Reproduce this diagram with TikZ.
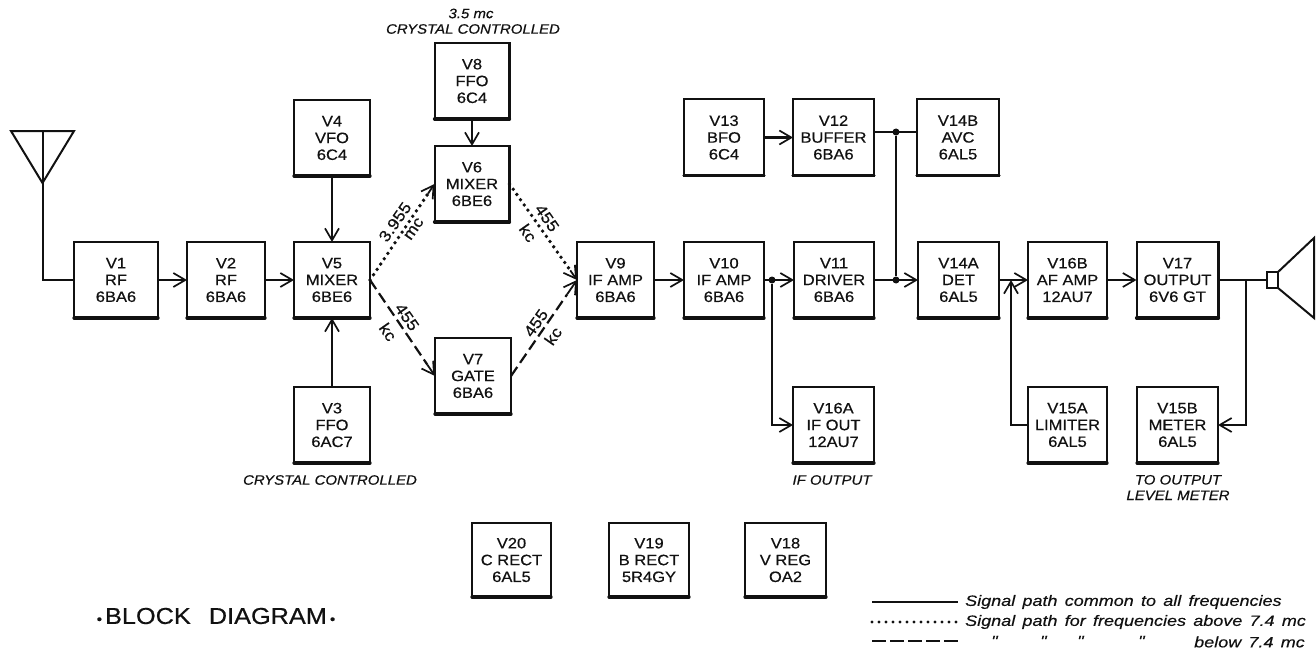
\documentclass[tikz,border=0pt]{standalone}
\usepackage{fontspec}
\setmainfont{Liberation Sans}[FakeStretch=1.1,FakeBold=0.5]
\newfontfamily\legfont{Liberation Sans}[FakeStretch=1.2,WordSpace=1.45,FakeBold=0.3]
\usetikzlibrary{arrows.meta,calc}
\definecolor{ink}{HTML}{111111}
\tikzset{
  box/.style={draw=ink,line width=2pt,minimum height=76pt,inner sep=0pt,outer sep=0pt,align=center,
    text=ink,font=\fontsize{15}{16.8}\selectfont},
  lab/.style={text=ink,inner sep=0pt,align=center,font=\fontsize{13.6}{15.5}\selectfont\itshape},
  edge/.style={text=ink,inner sep=0pt,font=\fontsize{16}{16}\selectfont},
  leg/.style={text=ink,inner sep=0pt,anchor=west,font=\legfont\fontsize{15}{15}\selectfont\itshape},
  tipb/.tip={Straight Barb[length=12pt,width=14pt,line width=1.7pt]},
  sig/.style={draw=ink,line width=2.4pt,-{tipb}},
  thin sig/.style={draw=ink,line width=1.8pt,-{tipb}},
  wire/.style={draw=ink,line width=2pt},
  dotpath/.style={draw=ink,line width=3.8pt,line cap=round,dash pattern=on 0pt off 6.4pt},
  dashpath/.style={draw=ink,line width=2.2pt,dash pattern=on 11pt off 5pt},
  tiponly/.style={draw=ink,line width=1.8pt,-{tipb}},
  junction/.style={circle,fill=ink,inner sep=0pt,minimum size=7pt},
}
\begin{document}
\begin{tikzpicture}[x=1pt,y=-1pt]
\useasboundingbox (0,0) rectangle (1316,650);
% main row
\node[box,minimum width=84pt] (V1) at (116,280) {V1\\RF\\6BA6};
\node[box,minimum width=78pt] (V2) at (226,280) {V2\\RF\\6BA6};
\node[box,minimum width=76pt] (V5) at (332,280) {V5\\MIXER\\6BE6};
\node[box,minimum width=76pt] (V4) at (332,138) {V4\\VFO\\6C4};
\node[box,minimum width=76pt] (V3) at (332,425) {V3\\FFO\\6AC7};
\node[box,minimum width=75pt] (V8) at (472,81) {V8\\FFO\\6C4};
\node[box,minimum width=75pt] (V6) at (472,184) {V6\\MIXER\\6BE6};
\node[box,minimum width=76pt] (V7) at (473,376) {V7\\GATE\\6BA6};
\node[box,minimum width=77pt] (V9) at (615.5,280) {V9\\IF AMP\\6BA6};
\node[box,minimum width=80pt] (V10) at (724,280) {V10\\IF AMP\\6BA6};
\node[box,minimum width=80pt] (V11) at (834,280) {V11\\DRIVER\\6BA6};
\node[box,minimum width=81pt] (V14A) at (958.5,280) {V14A\\DET\\6AL5};
\node[box,minimum width=79pt] (V16B) at (1067.5,280) {V16B\\AF AMP\\12AU7};
\node[box,minimum width=82pt] (V17) at (1177.5,280) {V17\\OUTPUT\\6V6 GT};
\node[box,minimum width=80pt] (V13) at (724,137.5) {V13\\BFO\\6C4};
\node[box,minimum width=81pt] (V12) at (833.5,137.5) {V12\\BUFFER\\6BA6};
\node[box,minimum width=82pt] (V14B) at (958,137.5) {V14B\\AVC\\6AL5};
\node[box,minimum width=81pt] (V16A) at (833.5,425) {V16A\\IF OUT\\12AU7};
\node[box,minimum width=79pt] (V15A) at (1067.5,425) {V15A\\LIMITER\\6AL5};
\node[box,minimum width=81pt] (V15B) at (1177.5,425) {V15B\\METER\\6AL5};
\node[box,minimum width=79pt,minimum height=74pt] (V20) at (511.5,560) {V20\\C RECT\\6AL5};
\node[box,minimum width=80pt,minimum height=74pt] (V19) at (649,560) {V19\\B RECT\\5R4GY};
\node[box,minimum width=81pt,minimum height=74pt] (V18) at (785.5,560) {V18\\V REG\\OA2};
% heavier lower and right edges of the boxes
\foreach \n in {V1,V2,V5,V4,V3,V8,V6,V7,V9,V10,V11,V14A,V16B,V17,V13,V12,V14B,V16A,V15A,V15B,V20,V19,V18}{
  \draw[draw=ink,line width=3.2pt,line cap=round] (\n.south west) -- (\n.south east);
  \draw[draw=ink,line width=2.6pt] (\n.south east) -- (\n.north east);
}
% antenna
\coordinate (antL) at (11,131);
\coordinate (antR) at (74,131);
\coordinate (antA) at (42.5,183);
\coordinate (antT) at (42.5,131);
\draw[wire,line join=miter] (antL) -- (antR) -- (antA) -- cycle;
\draw[wire] (antT) -- (antA) |- (V1.west);
% speaker
\node[draw=ink,line width=2pt,minimum width=11pt,minimum height=16pt,inner sep=0pt,outer sep=0pt] (spk) at (1272.5,280) {};
\coordinate (coneT) at (1314,238);
\coordinate (coneB) at (1314,318);
\draw[wire] (spk.north east) -- (coneT) -- (coneB) -- (spk.south east);
% junctions
\node[junction] (j1) at (896,132) {};
\node[junction] (j2) at (896,280) {};
\node[junction] (j3) at (772,280) {};
\coordinate (j4) at (1246,280);
\coordinate (j5) at (1011,280);
% solid connectors
\draw[sig] (V1) -- (V2);
\draw[sig] (V2) -- (V5);
\draw[thin sig] (V4) -- (V5);
\draw[thin sig] (V3) -- (V5);
\draw[thin sig] (V8) -- (V6);
\draw[sig] (V9) -- (V10);
\draw[sig] (V10) -- (V11);
\draw[sig] (V11) -- (V14A);
\draw[sig] (V14A) -- (V16B);
\draw[sig] (V16B) -- (V17);
\draw[sig] (V13) -- (V12);
\draw[wire,line width=2.4pt] (V12.east |- j1) -- (V14B.west |- j1);
\draw[wire,line width=1.8pt] (j1) -- (j2);
\draw[wire,line width=2.4pt] (V17) -- (spk);
\draw[thin sig] (j3) |- (V16A.west);
\draw[thin sig] (j4) |- (V15B.east);
\draw[thin sig] (V15A.west) -| (j5);
% diagonal connectors: the pattern stops short of a solid arrow tip
\draw[dotpath] (V5.east) -- ($(V5.east)!0.9!(V6.west)$);
\draw[tiponly] ($(V5.east)!0.9!(V6.west)$) -- (V6.west);
\draw[dotpath] (V6.east) -- ($(V6.east)!0.9!(V9.west)$);
\draw[tiponly] ($(V6.east)!0.9!(V9.west)$) -- (V9.west);
\draw[dashpath] (V5.east) -- ($(V5.east)!0.88!(V7.west)$);
\draw[tiponly] ($(V5.east)!0.88!(V7.west)$) -- (V7.west);
\draw[dashpath] (V7.east) -- ($(V7.east)!0.85!(V9.west)$);
\draw[tiponly] ($(V7.east)!0.85!(V9.west)$) -- (V9.west);
% diagonal labels
\node[edge,rotate=55] (e1) at (395,222) {3.955};
\node[edge,rotate=55] (e2) at (414,229) {mc};
\node[edge,rotate=-55] (e3) at (547,218) {455};
\node[edge,rotate=-55] (e4) at (528,233) {kc};
\node[edge,rotate=-55] (e5) at (407,317) {455};
\node[edge,rotate=-55] (e6) at (388,332) {kc};
\node[edge,rotate=55] (e7) at (536,323) {455};
\node[edge,rotate=55] (e8) at (553,336) {kc};
% captions
\node[lab] (c1) at (471,13.5) {3.5 mc};
\node[lab] (c2) at (473,29) {CRYSTAL CONTROLLED};
\node[lab] (c3) at (330,480) {CRYSTAL CONTROLLED};
\node[lab] (c4) at (832,480) {IF OUTPUT};
\node[lab] (c5) at (1178,487.5) {TO OUTPUT\\LEVEL METER};
\node[text=ink,inner sep=0pt,font=\fontsize{23}{24}\selectfont] (title) at (216,616) {{\fontsize{14}{14}\selectfont•}\hspace{3pt}BLOCK\hspace{18pt}DIAGRAM\hspace{3pt}{\fontsize{14}{14}\selectfont•}};
% legend
\coordinate (l1a) at (872,602); \coordinate (l1b) at (958,602);
\coordinate (l2a) at (872,622); \coordinate (l2b) at (958,622);
\coordinate (l3a) at (872,641); \coordinate (l3b) at (958,641);
\draw[wire,line width=2.4pt] (l1a) -- (l1b);
\draw[dotpath,line width=3.2pt,dash pattern=on 0pt off 7pt] (l2a) -- (l2b);
\draw[dashpath,line width=2.4pt,dash pattern=on 14pt off 4pt] (l3a) -- (l3b);
\node[leg] (t1) at (965,602) {Signal path common to all frequencies};
\node[leg] (t2) at (965,622) {Signal path for frequencies above 7.4 mc};
\node[leg] (t3) at (1194,642) {below 7.4 mc};
\node[leg] (d1) at (991,641) {"};
\node[leg] (d2) at (1040,641) {"};
\node[leg] (d3) at (1077,641) {"};
\node[leg] (d4) at (1138,641) {"};
\end{tikzpicture}
\end{document}
